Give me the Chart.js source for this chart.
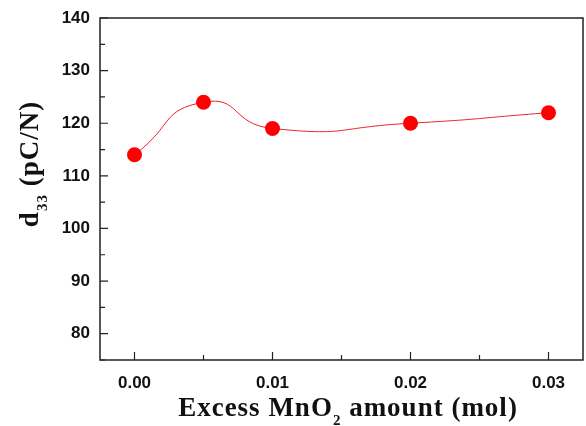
<!DOCTYPE html>
<html>
<head>
<meta charset="utf-8">
<script src="https://cdn.jsdelivr.net/npm/chart.js@4.4.1/dist/chart.umd.min.js"></script>
<style>
  html, body { margin: 0; padding: 0; background: #fff; }
  #wrap { width: 586px; height: 426px; }
</style>
</head>
<body>
<div id="wrap"><canvas id="chart" width="586" height="426"></canvas></div>
<script>
// data
const mnO2 = [0.000, 0.005, 0.010, 0.020, 0.030];
const d33 = [114, 124, 119, 120, 122];

const xTicks = [0.00, 0.01, 0.02, 0.03];
const xMinor = [0.005, 0.015, 0.025];
const yTicks = [80, 90, 100, 110, 120, 130, 140];
const yMinor = [75, 85, 95, 105, 115, 125, 135];

const xTitle = ['Excess MnO', '2', ' amount (mol)'];
const yTitle = ['d', '33', ' (pC/N)'];

const AXIS = '#222';
const SERIF = '"Liberation Serif", "Times New Roman", serif';
const SANS = '"Liberation Sans", Arial, sans-serif';

// text with a lowered subscript in the middle, centred on the origin
function drawSub(ctx, parts, size) {
    const big = `bold ${size}px ${SERIF}`;
    const small = `bold ${Math.round(size * 0.55)}px ${SERIF}`;
    ctx.letterSpacing = '1px';
    ctx.font = big;
    const w0 = ctx.measureText(parts[0]).width;
    const w2 = ctx.measureText(parts[2]).width;
    ctx.font = small;
    const w1 = ctx.measureText(parts[1]).width;
    let x = -(w0 + w1 + w2) / 2;
    ctx.textAlign = 'left';
    ctx.textBaseline = 'alphabetic';
    ctx.font = big;
    ctx.fillText(parts[0], x, 0);
    x += w0;
    ctx.font = small;
    ctx.fillText(parts[1], x, size * 0.33);
    x += w1;
    ctx.font = big;
    ctx.fillText(parts[2], x, 0);
}

const framePlugin = {
    id: 'frame',
    afterDraw(chart) {
        const { ctx, chartArea: a, scales } = chart;
        ctx.save();
        ctx.strokeStyle = AXIS;
        ctx.lineWidth = 1.5;
        ctx.strokeRect(a.left, a.top, a.right - a.left, a.bottom - a.top);

        ctx.lineWidth = 1.2;
        ctx.beginPath();
        const tick = (vals, len, axis) => vals.forEach(v => {
            if (axis === 'x') {
                const px = scales.x.getPixelForValue(v);
                ctx.moveTo(px, a.bottom);
                ctx.lineTo(px, a.bottom - len);
            } else {
                const py = scales.y.getPixelForValue(v);
                ctx.moveTo(a.left, py);
                ctx.lineTo(a.left + len, py);
            }
        });
        tick(xTicks, 8, 'x');
        tick(xMinor, 5, 'x');
        tick(yTicks, 8, 'y');
        tick(yMinor, 5, 'y');
        ctx.stroke();

        ctx.fillStyle = '#111';
        ctx.save();
        ctx.translate(348, 416);
        drawSub(ctx, xTitle, 27);
        ctx.restore();

        ctx.save();
        ctx.translate(38, 164);
        ctx.rotate(-Math.PI / 2);
        drawSub(ctx, yTitle, 27);
        ctx.restore();
        ctx.restore();
    }
};

new Chart(document.getElementById('chart'), {
    type: 'scatter',
    data: {
        datasets: [{
            data: mnO2.map((x, i) => ({ x, y: d33[i] })),
            showLine: true,
            tension: 0.58,
            borderColor: '#e8242b',
            borderWidth: 1,
            pointRadius: 7.5,
            pointBackgroundColor: '#ff0000',
            pointBorderWidth: 0,
            clip: false
        }]
    },
    options: {
        responsive: false,
        animation: false,
        layout: { autoPadding: false, padding: { top: 18, right: 3, left: 0, bottom: 0 } },
        plugins: { legend: { display: false }, tooltip: { enabled: false } },
        scales: {
            x: {
                type: 'linear',
                min: -0.0025,
                max: 0.0325,
                afterBuildTicks: s => { s.ticks = xTicks.map(v => ({ value: v })); },
                afterFit: s => { s.height = 66; s.paddingLeft = 0; s.paddingRight = 0; },
                grid: { display: false, drawTicks: false },
                border: { display: false },
                ticks: {
                    padding: 13,
                    color: '#111',
                    font: { family: SANS, size: 17, weight: 'bold' },
                    callback: v => v.toFixed(2)
                }
            },
            y: {
                min: 75,
                max: 140,
                afterBuildTicks: s => { s.ticks = yTicks.map(v => ({ value: v })); },
                afterFit: s => { s.width = 100; s.paddingTop = 0; s.paddingBottom = 0; },
                grid: { display: false, drawTicks: false },
                border: { display: false },
                ticks: {
                    padding: 10,
                    color: '#111',
                    font: { family: SANS, size: 17, weight: 'bold' }
                }
            }
        }
    },
    plugins: [framePlugin]
});
</script>
</body>
</html>
